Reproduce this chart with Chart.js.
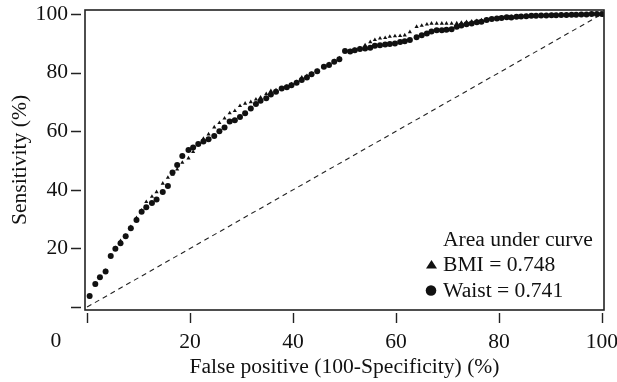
<!DOCTYPE html>
<html>
<head>
<meta charset="utf-8">
<script src="https://cdn.jsdelivr.net/npm/chart.js@4.4.1/dist/chart.umd.min.js"></script>
<style>
  html, body { margin: 0; padding: 0; background: #fff; }
  #wrap { width: 617px; height: 382px; }
</style>
</head>
<body>
<div id="wrap"><canvas id="roc" width="617" height="382"></canvas></div>
<script>
// ROC curves
const fpr = [
    0.5, 1.6, 2.5, 3.6, 4.6, 5.5, 6.5, 7.5, 8.5, 9.6,
    10.6, 11.5, 12.6, 13.5, 14.7, 15.7, 16.6, 17.5, 18.5, 19.7,
    20.6, 21.6, 22.6, 23.6, 24.7, 25.7, 26.7, 27.7, 28.7, 29.7,
    30.7, 31.8, 32.8, 33.7, 34.8, 35.7, 36.7, 37.8, 38.8, 39.7,
    40.7, 41.7, 42.7, 43.6, 44.7, 46, 47, 48, 49, 50.1,
    51.1, 52, 53, 54, 55, 55.9, 56.9, 57.9, 58.8, 59.8,
    60.8, 61.7, 62.7, 64, 65, 66, 66.9, 67.9, 68.9, 69.8,
    70.8, 71.8, 72.7, 73.7, 74.7, 75.7, 76.6, 77.6, 78.6, 79.6,
    80.5, 81.5, 82.4, 83.4, 84.3, 85.3, 86.3, 87.2, 88.2, 89.2,
    90.2, 91.1, 92.1, 93.1, 94.1, 95, 96, 97, 98, 99,
    100
];
const waist = [
    3.8, 7.9, 10.2, 12.1, 17.4, 19.9, 21.8, 24.2, 26.9, 29.7,
    32.5, 34.1, 35.5, 36.7, 39.3, 41.3, 45.9, 48.5, 51.6, 53.6,
    54.5, 55.7, 56.5, 57.3, 58.4, 60, 61.3, 63.3, 63.8, 64.9,
    66.2, 67.8, 69.3, 70.4, 71.3, 72.6, 73.5, 74.6, 75, 75.7,
    76.6, 77.5, 78.4, 79.5, 80.5, 82, 82.6, 83.7, 84.6, 87.4,
    87.2, 87.7, 88.1, 88.3, 88.5, 89.2, 89.4, 89.6, 89.8, 90,
    90.5, 90.7, 91.2, 92.1, 92.8, 93.4, 94.1, 94.5, 94.5, 94.7,
    94.8, 95.7, 96.1, 96.5, 96.8, 97.2, 97.4, 98, 98.3, 98.5,
    98.7, 98.9, 98.8, 99.1, 99.2, 99.3, 99.4, 99.4, 99.5, 99.5,
    99.6, 99.6, 99.7, 99.7, 99.8, 99.8, 99.9, 99.9, 100, 100,
    100
];
const bmi = [
    3.4, 7.5, 10, 12.4, 17.2, 20.2, 22.6, 24.4, 27.4, 30.4,
    33, 35.9, 37.7, 39.3, 42.2, 44.2, 45.2, 47, 49.3, 50.8,
    53, 55.4, 57.5, 59, 61.4, 62.9, 64.4, 66.2, 67, 68.7,
    69.5, 70, 70.9, 71.6, 72.8, 73.8, 74, 74.6, 75.3, 76.1,
    76.9, 78.4, 78.9, 79.7, 80.7, 82, 83, 84, 85, 87.1,
    87.4, 87.9, 88.4, 89.4, 90.5, 91.2, 91.7, 91.9, 92.3, 92.5,
    92.6, 92.8, 93.9, 95.7, 96.1, 96.5, 96.8, 96.8, 96.8, 96.8,
    96.8, 96.9, 97.1, 97.3, 97.5, 97.7, 97.9, 98.2, 98.4, 98.6,
    98.8, 99, 99.1, 99.2, 99.3, 99.4, 99.5, 99.5, 99.6, 99.6,
    99.7, 99.7, 99.8, 99.8, 99.9, 99.9, 100, 100, 100, 100,
    100
];
const chance = [0, 100];
const xTicks = [0, 20, 40, 60, 80, 100];
const yTicks = [0, 20, 40, 60, 80, 100];
const legendTitle = 'Area under curve';
const legendBmi = 'BMI = 0.748';
const legendWaist = 'Waist = 0.741';

const FONT = '"Liberation Serif", "Times New Roman", serif';
const FONT_SIZE = 21.6;
const INK = '#111';

// box, offset tick marks, corner "0" and the in-plot legend
const framePlugin = {
    id: 'frame',
    afterDraw(chart) {
        const { ctx, chartArea: a, scales } = chart;
        ctx.save();
        ctx.strokeStyle = '#222';
        ctx.lineWidth = 1.6;
        ctx.strokeRect(a.left, a.top, a.right - a.left, a.bottom - a.top);

        ctx.lineWidth = 1.4;
        ctx.beginPath();
        xTicks.forEach(v => {
            const px = Math.round(scales.x.getPixelForValue(v)) + 0.5;
            ctx.moveTo(px, a.bottom + 3);
            ctx.lineTo(px, a.bottom + 13);
        });
        yTicks.forEach(v => {
            const py = Math.round(scales.y.getPixelForValue(v)) + 0.5;
            ctx.moveTo(a.left - 14, py);
            ctx.lineTo(a.left - 4, py);
        });
        ctx.stroke();

        ctx.fillStyle = INK;
        ctx.font = FONT_SIZE + 'px ' + FONT;
        ctx.textAlign = 'center';
        ctx.textBaseline = 'alphabetic';
        ctx.fillText('0', 56, 347);

        ctx.textAlign = 'left';
        ctx.fillText(legendTitle, 443, 246);
        ctx.fillText(legendBmi, 443, 271);
        ctx.fillText(legendWaist, 443, 297);

        ctx.beginPath();
        ctx.moveTo(431.5, 260);
        ctx.lineTo(437, 268.5);
        ctx.lineTo(426, 268.5);
        ctx.closePath();
        ctx.fill();
        ctx.beginPath();
        ctx.arc(431, 290.5, 5.3, 0, Math.PI * 2);
        ctx.fill();
        ctx.restore();
    }
};

const toPoints = ys => fpr.map((x, i) => ({ x, y: ys[i] }));

new Chart(document.getElementById('roc'), {
    type: 'scatter',
    data: {
        datasets: [
            {
                label: 'Waist',
                data: toPoints(waist),
                pointStyle: 'circle',
                pointRadius: 3,
                backgroundColor: INK,
                borderColor: INK,
                borderWidth: 0
            },
            {
                label: 'BMI',
                data: toPoints(bmi),
                pointStyle: 'triangle',
                pointRadius: 2.4,
                backgroundColor: INK,
                borderColor: INK,
                borderWidth: 0
            },
            {
                label: 'Chance',
                data: chance.map(v => ({ x: v, y: v })),
                showLine: true,
                pointRadius: 0,
                borderColor: '#222',
                borderWidth: 1.1,
                borderDash: [5, 4]
            }
        ]
    },
    options: {
        responsive: false,
        animation: false,
        devicePixelRatio: 1,
        layout: { padding: { top: 10, right: 13, left: 0, bottom: 0 } },
        plugins: {
            legend: { display: false },
            tooltip: { enabled: false }
        },
        scales: {
            x: {
                type: 'linear',
                min: -0.4,
                max: 100.4,
                afterBuildTicks: s => { s.ticks = xTicks.map(v => ({ value: v })); },
                afterFit: s => {
                    s.height = 72;
                    s.paddingLeft = 0;
                    s.paddingRight = 0;
                },
                grid: { display: false, drawTicks: false },
                border: { display: false },
                ticks: {
                    color: INK,
                    padding: 19,
                    maxRotation: 0,
                    autoSkip: false,
                    font: { family: FONT, size: FONT_SIZE },
                    callback: v => (v === 0 ? '' : String(v))
                },
                title: {
                    display: true,
                    text: 'False positive (100-Specificity) (%)',
                    color: INK,
                    font: { family: FONT, size: FONT_SIZE },
                    padding: { top: 0, bottom: 2 }
                }
            },
            y: {
                type: 'linear',
                min: -1,
                max: 101.4,
                afterBuildTicks: s => { s.ticks = yTicks.map(v => ({ value: v })); },
                afterFit: s => {
                    s.width = 85;
                    s.paddingTop = 0;
                    s.paddingBottom = 0;
                },
                grid: { display: false, drawTicks: false },
                border: { display: false },
                ticks: {
                    color: INK,
                    padding: 17,
                    autoSkip: false,
                    font: { family: FONT, size: FONT_SIZE },
                    callback: v => (v === 0 ? '' : String(v))
                },
                title: {
                    display: true,
                    text: 'Sensitivity (%)',
                    color: INK,
                    font: { family: FONT, size: FONT_SIZE },
                    padding: { top: 7, bottom: 0 }
                }
            }
        }
    },
    plugins: [framePlugin]
});
</script>
</body>
</html>
